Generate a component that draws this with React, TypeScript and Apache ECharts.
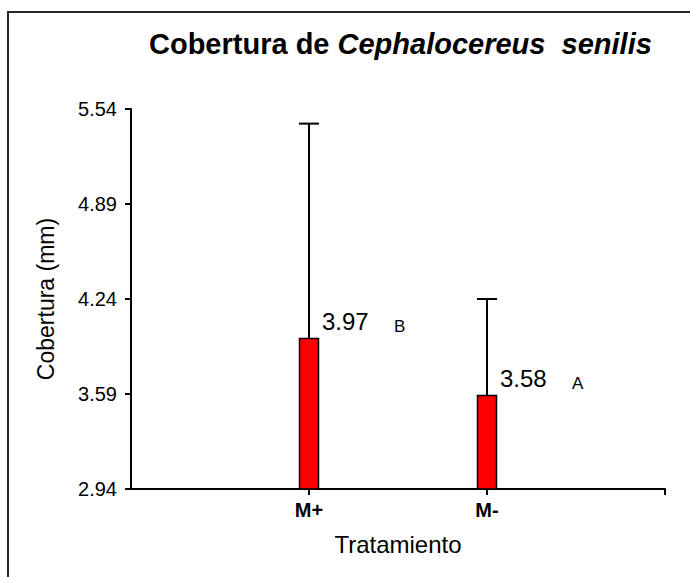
import React, { useEffect, useRef } from "react";
import * as echarts from "echarts";

const categories = ["M+", "M-"];
const means = [3.97, 3.58];
const upperLimits = [5.44, 4.24];
const letters = ["B", "A"];
const yTicks = [2.94, 3.59, 4.24, 4.89, 5.54];
const xTickPositions = [1, 2, 3];

const FONT = "'Liberation Sans', Arial, sans-serif";

export default function App() {
  const ref = useRef<HTMLDivElement>(null);

  useEffect(() => {
    if (!ref.current) return;
    const chart = echarts.init(ref.current, null, { renderer: "svg" });
    const yMin = yTicks[0];
    const yMax = yTicks[yTicks.length - 1];
    const data = categories.map((c, i) => [i + 1, means[i], upperLimits[i]]);

    chart.setOption({
      animation: false,
      backgroundColor: "#ffffff",
      title: {
        text: "{a|Cobertura de }{b|Cephalocereus  senilis}",
        left: 144,
        top: 24,
        textStyle: {
          rich: {
            a: { fontFamily: FONT, fontSize: 29, fontWeight: "bold", color: "#000" },
            b: { fontFamily: FONT, fontSize: 29, fontWeight: "bold", fontStyle: "italic", color: "#000" },
          },
        },
      },
      graphic: [
        {
          type: "rect",
          shape: { x: 8, y: 12, width: 720, height: 620 },
          style: { fill: "none", stroke: "#262626", lineWidth: 2 },
          silent: true,
          z: -1,
        },
      ],
      grid: { left: 131, right: 25, top: 109, bottom: 88, containLabel: false },
      xAxis: {
        type: "value",
        min: 0,
        max: 3,
        interval: 1,
        name: "Tratamiento",
        nameLocation: "middle",
        nameGap: 43,
        nameTextStyle: { fontFamily: FONT, fontSize: 24, color: "#000" },
        axisLine: { show: true, onZero: false, lineStyle: { color: "#000", width: 2 } },
        axisTick: { show: true, length: 6, customValues: xTickPositions, lineStyle: { color: "#000", width: 2 } },
        axisLabel: {
          customValues: categories.map((_, i) => i + 1),
          margin: 11,
          fontFamily: FONT,
          fontSize: 20,
          fontWeight: "bold",
          color: "#000",
          formatter: (v: number) => categories[Math.round(v) - 1] ?? "",
        },
        splitLine: { show: false },
      },
      yAxis: {
        type: "value",
        min: yMin,
        max: yMax,
        interval: 0.65,
        name: "Cobertura (mm)",
        nameLocation: "middle",
        nameRotate: 90,
        nameGap: 74,
        nameTextStyle: { fontFamily: FONT, fontSize: 23, color: "#000" },
        axisLine: { show: true, lineStyle: { color: "#000", width: 2 } },
        axisTick: { show: true, length: 6, customValues: yTicks, lineStyle: { color: "#000", width: 2 } },
        axisLabel: {
          customValues: yTicks,
          margin: 14,
          fontFamily: FONT,
          fontSize: 20,
          color: "#000",
          formatter: (v: number) => v.toFixed(2),
        },
        splitLine: { show: false },
      },
      series: [
        {
          type: "custom",
          data,
          clip: false,
          renderItem: (params: any, api: any) => {
            const i = params.dataIndex;
            const x = api.value(0);
            const mean = api.value(1);
            const upper = api.value(2);
            const base = api.coord([x, yMin]);
            const top = api.coord([x, mean]);
            const hi = api.coord([x, upper]);
            const barW = 19;
            const capW = 20;
            const cx = base[0];
            return {
              type: "group",
              children: [
                {
                  type: "line",
                  shape: { x1: cx, y1: top[1], x2: cx, y2: hi[1] },
                  style: { stroke: "#000", lineWidth: 2 },
                },
                {
                  type: "line",
                  shape: { x1: cx - capW / 2, y1: hi[1], x2: cx + capW / 2, y2: hi[1] },
                  style: { stroke: "#000", lineWidth: 2 },
                },
                {
                  type: "rect",
                  shape: { x: cx - barW / 2, y: top[1], width: barW, height: base[1] - top[1] },
                  style: { fill: "#ff0000", stroke: "#000", lineWidth: 1.5 },
                },
                {
                  type: "text",
                  x: cx + 13,
                  y: top[1] - 17,
                  style: {
                    text: means[i].toFixed(2),
                    fontFamily: FONT,
                    fontSize: 24,
                    fill: "#000",
                    align: "left",
                    verticalAlign: "middle",
                  },
                },
                {
                  type: "text",
                  x: cx + 85,
                  y: top[1] - 12,
                  style: {
                    text: letters[i],
                    fontFamily: FONT,
                    fontSize: 17,
                    fill: "#000",
                    align: "left",
                    verticalAlign: "middle",
                  },
                },
              ],
            };
          },
        },
      ],
    });

    return () => chart.dispose();
  }, []);

  return (
    <div
      ref={ref}
      style={{ position: "fixed", left: 0, top: 0, width: 690, height: 577, background: "#fff" }}
    />
  );
}
